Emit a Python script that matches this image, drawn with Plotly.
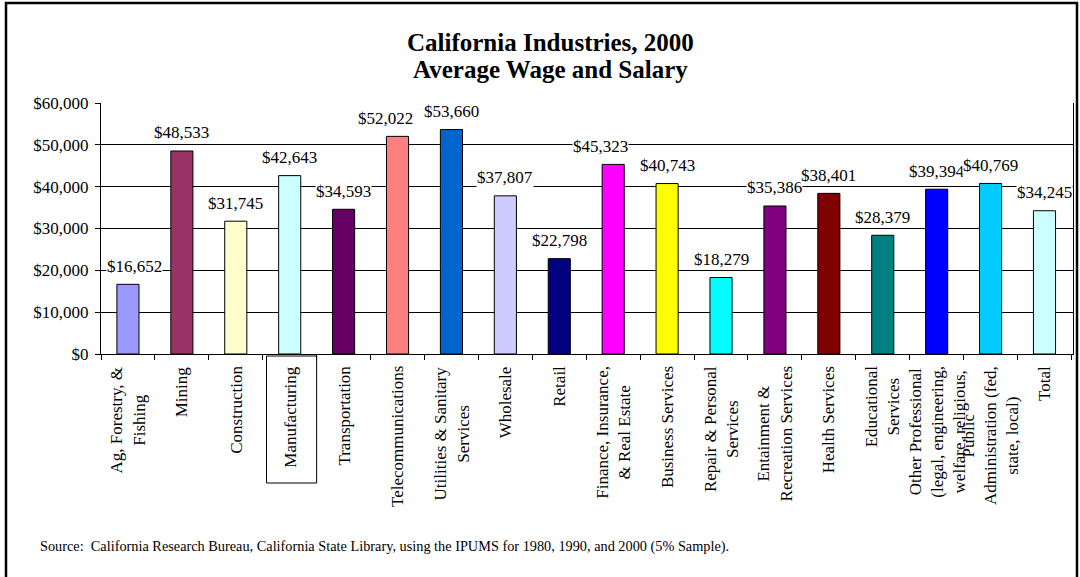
import plotly.graph_objects as go

# Industries and average annual wage and salary, California 2000
industries = [
    "Ag, Forestry, & Fishing", "Mining", "Construction", "Manufacturing",
    "Transportation", "Telecommunications", "Utilities & Sanitary Services",
    "Wholesale", "Retail", "Finance, Insurance, & Real Estate",
    "Business Services", "Repair & Personal Services",
    "Entainment & Recreation Services", "Health Services",
    "Educational Services", "Other Professional",
    "Public Administration", "Total",
]
tick_labels = [
    "Ag, Forestry, &<br>Fishing", "Mining", "Construction", "Manufacturing",
    "Transportation", "Telecommunications", "Utilities & Sanitary<br>Services",
    "Wholesale", "Retail", "Finance, Insurance,<br>& Real Estate",
    "Business Services", "Repair & Personal<br>Services",
    "Entainment &<br>Recreation Services", "Health Services",
    "Educational<br>Services",
    "Other Professional<br>(legal, engineering,<br>welfare, religious,",
    "Public<br>Administration (fed,<br>state, local)", "Total",
]
avg_wage = [16652, 48533, 31745, 42643, 34593, 52022, 53660, 37807, 22798,
            45323, 40743, 18279, 35386, 38401, 28379, 39394, 40769, 34245]
bar_colors = ["#9999FF", "#993366", "#FFFFCC", "#CCFFFF", "#660066", "#FF8080",
              "#0066CC", "#CCCCFF", "#000080", "#FF00FF", "#FFFF00", "#00FFFF",
              "#800080", "#800000", "#008080", "#0000FF", "#00CCFF", "#CCFFFF"]

W, H = 1080, 577
ML, MR, MT, MB = 101, 7, 103, 223
PW, PH = W - ML - MR, H - MT - MB
FONT = "Liberation Serif, Times New Roman, serif"


def px_x(px):
    return (px - ML) / PW


def px_y(py):
    return (H - MB - py) / PH


fig = go.Figure(go.Bar(
    x=industries, y=avg_wage,
    marker=dict(color=bar_colors, line=dict(color="black", width=1)),
    hoverinfo="skip",
))

annotations = []
# value labels above each bar, on a white box that hides the gridlines
label_nudge = {"Ag, Forestry, & Fishing": 7, "Telecommunications": -12,
               "Finance, Insurance, & Real Estate": -13}
for name, val in zip(industries, avg_wage):
    annotations.append(dict(
        x=name, y=val, xref="x", yref="y", text=f"${val:,}",
        showarrow=False, yanchor="middle", yshift=18,
        xshift=label_nudge.get(name, 0),
        bgcolor="white", borderpad=0,
        font=dict(family=FONT, size=17, color="black"),
    ))

# rotated category labels, centred multi-line text hanging below the axis
for name, lab in zip(industries, tick_labels):
    annotations.append(dict(
        x=name, y=0, xref="x", yref="paper", text=lab, textangle=-90,
        showarrow=False, yanchor="top", xanchor="center", yshift=-10,
        align="center", font=dict(family=FONT, size=17, color="black"),
    ))

# two-line title
annotations.append(dict(
    x=px_x(550), y=px_y(42), xref="paper", yref="paper",
    text="<b>California Industries, 2000</b>", showarrow=False,
    yanchor="middle", font=dict(family=FONT, size=25, color="black"),
))
annotations.append(dict(
    x=px_x(550), y=px_y(70), xref="paper", yref="paper",
    text="<b>Average Wage and Salary</b>", showarrow=False,
    yanchor="middle", font=dict(family=FONT, size=25, color="black"),
))

# source note
annotations.append(dict(
    x=px_x(38), y=px_y(546), xref="paper", yref="paper", xanchor="left",
    yanchor="middle", showarrow=False,
    text="Source:  California Research Bureau, California State Library, "
         "using the IPUMS for 1980, 1990, and 2000 (5% Sample).",
    font=dict(family=FONT, size=14.3, color="black"),
))

shapes = [
    # outer chart frame
    dict(type="rect", xref="paper", yref="paper",
         x0=px_x(6), x1=px_x(1077), y0=px_y(582), y1=px_y(3),
         line=dict(color="black", width=2.5), fillcolor="rgba(0,0,0,0)"),
    # selection box around the Manufacturing label
    dict(type="rect", xref="x", yref="paper",
         x0=2.57, x1=3.5, y0=px_y(483), y1=px_y(356),
         line=dict(color="black", width=1), fillcolor="rgba(0,0,0,0)"),
]

fig.update_layout(
    width=W, height=H,
    margin=dict(l=ML, r=MR, t=MT, b=MB, pad=0),
    paper_bgcolor="white", plot_bgcolor="white",
    bargap=0.59, showlegend=False,
    font=dict(family=FONT, size=17, color="black"),
    annotations=annotations, shapes=shapes,
    xaxis=dict(
        showticklabels=False, ticks="outside", tickson="boundaries",
        ticklen=5, tickcolor="black", showline=True, linecolor="black",
        linewidth=1, mirror=False, showgrid=False, fixedrange=True,
    ),
    yaxis=dict(
        range=[0, 60000], dtick=10000, tickprefix="$", tickformat=",d",
        ticks="outside", ticklen=5, tickcolor="black",
        showline=True, linecolor="black", linewidth=1, mirror=True,
        showgrid=True, gridcolor="black", gridwidth=1, zeroline=False,
        ticklabelstandoff=3,
        tickfont=dict(family=FONT, size=17, color="black"), fixedrange=True,
    ),
)

fig.write_html("out.html", config={"displayModeBar": False})
